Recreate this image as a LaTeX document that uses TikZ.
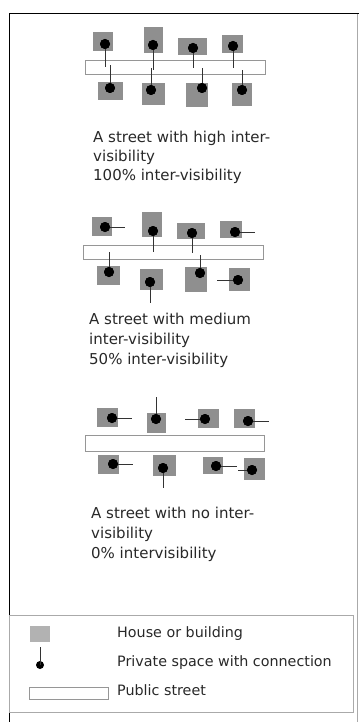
\documentclass[tikz,border=0pt]{standalone}
\usepackage{fontspec}
\setmainfont{DejaVu Sans}
\definecolor{bldgfill}{RGB}{143,143,143}
\definecolor{keyfill}{RGB}{178,178,178}
\definecolor{streetline}{RGB}{150,150,150}
\definecolor{framegray}{RGB}{170,170,170}
\definecolor{inktext}{RGB}{40,40,40}
\tikzset{
  bldg/.style={rectangle, fill=bldgfill, draw=none, inner sep=0pt},
  keybldg/.style={rectangle, fill=keyfill, draw=none, inner sep=0pt},
  privdot/.style={circle, fill=black, draw=none, inner sep=0pt, minimum size=10pt},
  keydot/.style={circle, fill=black, draw=none, inner sep=0pt, minimum size=8pt},
  link/.style={draw=black!80, line width=0.6pt},
  street/.style={rectangle, draw=streetline, fill=white, line width=0.8pt, inner sep=0pt},
  caption/.style={anchor=base west, inner sep=0pt, text=inktext, font=\fontsize{15}{19}\selectfont},
  keytext/.style={anchor=base west, inner sep=0pt, text=inktext, font=\fontsize{14.3}{18}\selectfont},
}
% one lot: building (x1,y1)-(x2,y2), private space at (dx,dy), connection ending at (ex,ey)
\newcommand\lot[9]{%
  \node[bldg, minimum width={(#4-#2)*1pt}, minimum height={(#5-#3)*1pt}]
    (#1-b) at ({(#2+#4)/2},{(#3+#5)/2}) {};
  \node[privdot] (#1-d) at (#6,#7) {};
  \coordinate (#1-e) at (#8,#9);
  \draw[link] (#1-d.center) -- (#1-e);
  \node[privdot] at (#1-d) {};
}
\newcommand\streetbar[5]{%
  \node[street, minimum width={(#4-#2)*1pt}, minimum height={(#5-#3)*1pt}]
    (#1) at ({(#2+#4)/2},{(#3+#5)/2}) {};
}
\begin{document}
\begin{tikzpicture}[x=1pt, y=-1pt]
\useasboundingbox (0,0) rectangle (359,722);

% sheet frame
\draw[framegray, line width=0.6pt] (357,14) -- (357,722);
\draw[black, line width=1pt] (359,14) -- (9,14) -- (9,722);

% ---- high inter-visibility ----
\streetbar{s1}{85}{60}{265}{74}
\lot{h1}{93}{32}{113}{51}{105}{44}{105}{67}
\lot{h2}{144}{27}{163}{53}{153}{45}{153}{70}
\lot{h3}{178}{38}{207}{55}{193}{48}{193}{68}
\lot{h4}{222}{35}{243}{53}{233}{46}{233}{68}
\lot{h5}{98}{82}{123}{100}{110}{88}{110}{65}
\lot{h6}{142}{83}{165}{105}{151}{90}{151}{68}
\lot{h7}{186}{83}{208}{107}{202}{88}{202}{68}
\lot{h8}{232}{83}{252}{106}{242}{90}{242}{70}
\node[caption] (c1a) at (93,143) {A street with high inter-};
\node[caption] (c1b) at (93,162) {visibility};
\node[caption] (c1c) at (93,181) {100\% inter-visibility};

% ---- medium inter-visibility ----
\streetbar{s2}{83}{245}{263}{259}
\lot{m1}{92}{217}{112}{236}{105}{227}{125}{227}
\lot{m2}{142}{212}{162}{237}{153}{231}{153}{252}
\lot{m3}{177}{223}{205}{239}{192}{233}{192}{253}
\lot{m4}{220}{221}{242}{238}{235}{232}{255}{232}
\lot{m5}{97}{266}{120}{285}{109}{272}{109}{252}
\lot{m6}{140}{269}{163}{290}{150}{282}{150}{303}
\lot{m7}{185}{267}{207}{292}{200}{273}{200}{255}
\lot{m8}{229}{268}{250}{291}{238}{280}{217}{280}
\node[caption] (c2a) at (89,324) {A street with medium};
\node[caption] (c2b) at (89,344) {inter-visibility};
\node[caption] (c2c) at (89,364) {50\% inter-visibility};

% ---- no inter-visibility ----
\streetbar{s3}{85}{435}{264}{451}
\lot{n1}{97}{408}{118}{427}{112}{418}{132}{418}
\lot{n2}{147}{413}{166}{433}{156}{419}{156}{397}
\lot{n3}{198}{409}{219}{428}{205}{419}{185}{419}
\lot{n4}{234}{409}{255}{428}{248}{421}{269}{421}
\lot{n5}{98}{455}{119}{474}{113}{464}{133}{464}
\lot{n6}{153}{455}{176}{476}{163}{468}{163}{488}
\lot{n7}{203}{457}{223}{474}{216}{466}{237}{466}
\lot{n8}{244}{458}{265}{480}{252}{470}{238}{470}
\node[caption] (c3a) at (91,518) {A street with no inter-};
\node[caption] (c3b) at (91,538) {visibility};
\node[caption] (c3c) at (91,558) {0\% intervisibility};

% ---- key ----
\node[draw=framegray, line width=0.6pt, inner sep=0pt, minimum width=344pt, minimum height=97pt]
  (key) at (181,664) {};
\node[keybldg, minimum width=20pt, minimum height=16pt] (kb) at (40,634) {};
\node[keydot] (kd) at (40,665) {};
\coordinate (ke) at (40,647);
\draw[link] (kd.center) -- (ke);
\node[street, minimum width=79pt, minimum height=12pt] (ks) at (68.5,693) {};
\node[keytext] (kt1) at (117,637) {House or building};
\node[keytext] (kt2) at (117,666) {Private space with connection};
\node[keytext] (kt3) at (117,695) {Public street};
\end{tikzpicture}
\end{document}
